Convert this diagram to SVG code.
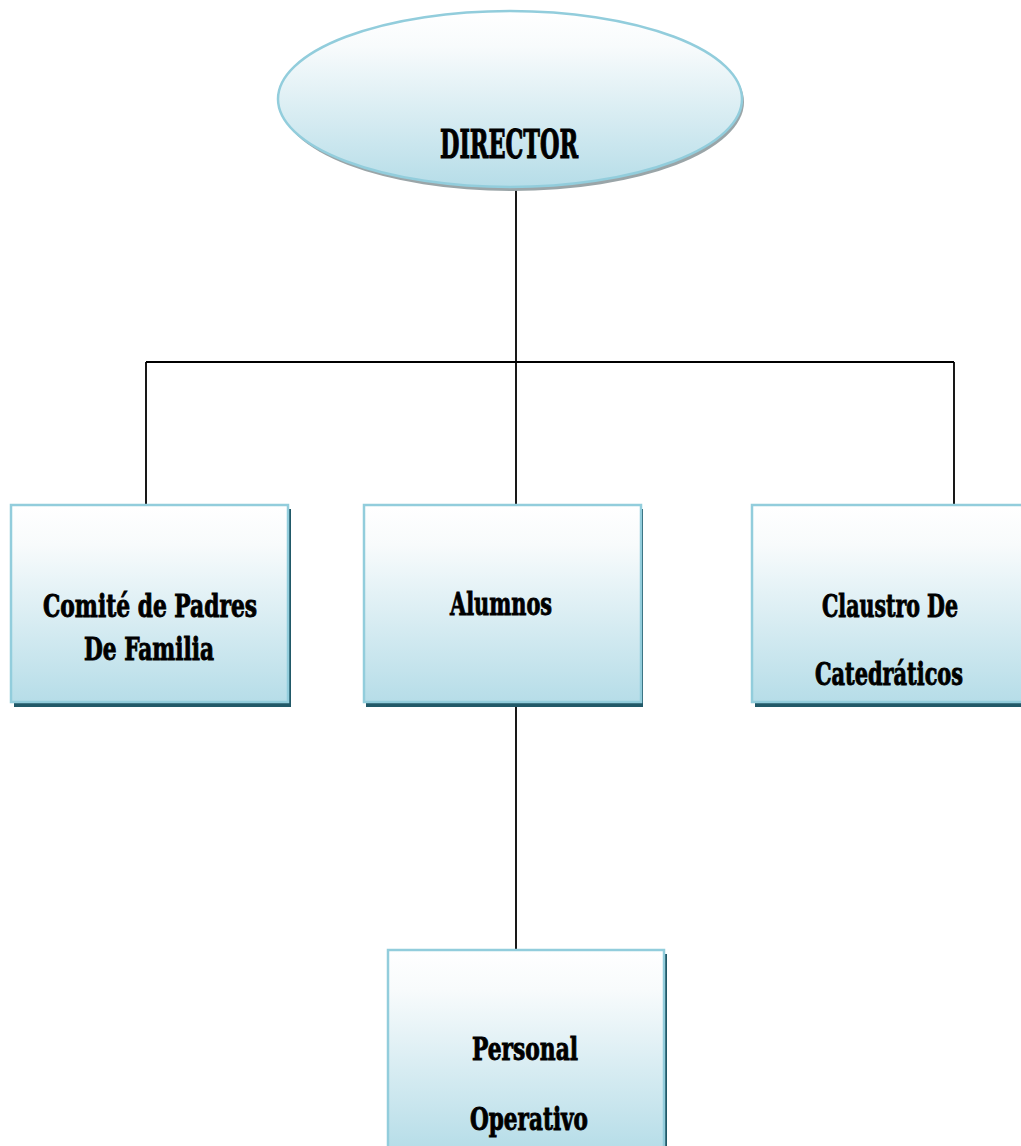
<svg xmlns="http://www.w3.org/2000/svg" width="1021" height="1146" viewBox="0 0 1021 1146">
<defs>
<linearGradient id="g" x1="0" y1="0" x2="0" y2="1">
<stop offset="0" stop-color="#ffffff"/>
<stop offset="0.2" stop-color="#f8fbfc"/>
<stop offset="1" stop-color="#b6dde8"/>
</linearGradient>
</defs>
<style>
.box{fill:url(#g);stroke:#92cddc;stroke-width:2.5}
.sh{fill:#215968}
.esh{fill:#9aa5a8}
.t{font-family:"DejaVu Serif Condensed","DejaVu Serif","Liberation Serif",serif;font-weight:bold;font-size:32px;fill:#000;stroke:#000;stroke-width:0.9;text-anchor:middle}
.big{font-size:40px;stroke-width:1.1}
.ln{stroke:#000;stroke-width:1.8;fill:none}
</style>
<rect width="1021" height="1146" fill="#ffffff"/>
<g id="connectors">
<path class="ln" d="M516 190V362M146 362H954M146 362V505M516 362V505M954 362V505M516 702V950"/>
</g>
<g id="director">
<ellipse class="esh" cx="512" cy="102" rx="232" ry="89"/>
<ellipse class="box" cx="510" cy="99" rx="232" ry="88"/>
<text class="t big" x="509" y="158" textLength="138" lengthAdjust="spacingAndGlyphs">DIRECTOR</text>
</g>
<g id="comite">
<rect class="sh" x="14" y="509" width="277" height="198"/>
<rect class="box" x="11" y="505" width="277" height="197"/>
<text class="t" x="150" y="617" textLength="214" lengthAdjust="spacingAndGlyphs">Comité de Padres</text>
<text class="t" x="149" y="660" textLength="130" lengthAdjust="spacingAndGlyphs">De Familia</text>
</g>
<g id="alumnos">
<rect class="sh" x="366" y="509" width="277" height="198"/>
<rect class="box" x="364" y="505" width="277" height="197"/>
<text class="t" x="501" y="615" textLength="102" lengthAdjust="spacingAndGlyphs">Alumnos</text>
</g>
<g id="claustro">
<rect class="sh" x="755" y="509" width="277" height="198"/>
<rect class="box" x="752" y="505" width="277" height="197"/>
<text class="t" x="890" y="617" textLength="136" lengthAdjust="spacingAndGlyphs">Claustro De</text>
<text class="t" x="889" y="685" textLength="148" lengthAdjust="spacingAndGlyphs">Catedráticos</text>
</g>
<g id="personal">
<rect class="sh" x="391" y="954" width="276" height="200"/>
<rect class="box" x="388" y="950" width="276" height="200"/>
<text class="t" x="525" y="1060" textLength="106" lengthAdjust="spacingAndGlyphs">Personal</text>
<text class="t" x="529" y="1130" textLength="118" lengthAdjust="spacingAndGlyphs">Operativo</text>
</g>
</svg>
